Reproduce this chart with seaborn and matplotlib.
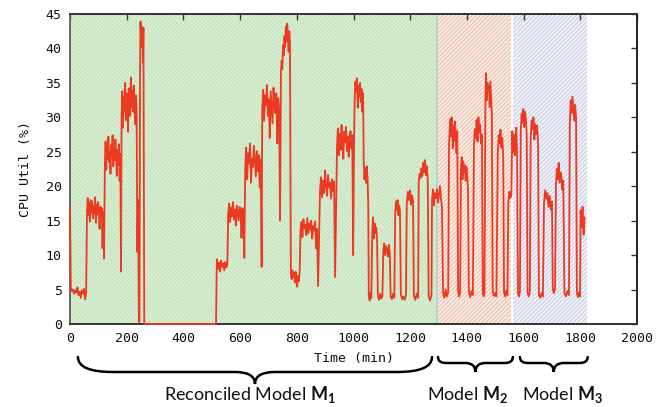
import numpy as np
import pandas as pd
import matplotlib
matplotlib.use("Agg")
import matplotlib.pyplot as plt
import seaborn as sns
from matplotlib.path import Path
from matplotlib.patches import PathPatch
from matplotlib import transforms

# ---------------- data ----------------
# each plateau: start minute, end minute, hand-read CPU values across it
seg_start = [0, 3, 60, 123, 182, 243, 247, 262, 518, 558, 618, 678, 744, 779, 813,
             882, 942, 1004, 1036, 1054, 1066, 1086, 1105, 1131, 1147, 1167, 1188,
             1213, 1230, 1265, 1277, 1316, 1337, 1369, 1379, 1407, 1425, 1456, 1465,
             1491, 1509, 1531, 1546, 1560, 1580, 1590, 1614, 1625, 1654, 1672, 1703,
             1714, 1744, 1763, 1788, 1801]
seg_end = [2, 57, 120, 180, 240, 245, 259, 515, 555, 615, 676, 741, 776, 810, 875,
           935, 1002, 1034, 1052, 1063, 1083, 1102, 1128, 1144, 1164, 1185, 1210,
           1228, 1262, 1275, 1312, 1334, 1366, 1376, 1404, 1421, 1453, 1462, 1488,
           1504, 1528, 1543, 1557, 1577, 1587, 1611, 1622, 1651, 1668, 1700, 1711,
           1740, 1760, 1785, 1799, 1815]
seg_values = [
    [17, 8],
    [5.2, 4.8, 5.0, 4.4, 4.9, 4.6, 5.3, 4.2, 4.7, 3.8, 4.9, 4.4, 5.1, 3.6, 4.5],
    [16.5, 18.3, 15.8, 17.6, 14.9, 18.0, 16.2, 17.8, 15.3, 17.1, 16.0, 18.4, 14.7,
     17.3, 15.9, 17.7, 16.4, 13.8, 17.0, 15.5, 16.8, 11.0, 16.2, 9.5],
    [23.0, 26.5, 22.4, 25.8, 24.0, 27.2, 23.5, 25.0, 21.8, 26.0, 24.6, 27.4, 22.9,
     25.5, 23.8, 26.8, 24.2, 21.5, 25.3, 23.1, 26.1, 20.8, 24.7, 7.6],
    [30.5, 33.8, 28.5, 32.9, 31.0, 35.0, 29.6, 33.5, 31.8, 27.9, 34.2, 32.4, 30.2,
     35.8, 31.5, 33.9, 30.8, 34.6, 32.0, 29.0, 33.2, 31.3, 10.5, 18.0],
    [0.3, 0.3],
    [36.0, 43.9, 41.5, 43.2, 40.2, 42.8, 38.0, 43.0],
    [0, 0],
    [9.4, 8.0, 8.9, 7.6, 9.2, 8.3, 8.8, 7.8, 9.0, 8.2, 8.6],
    [16.0, 17.5, 14.8, 16.9, 15.6, 17.7, 15.2, 16.6, 14.3, 17.2, 16.1, 15.0, 17.0,
     16.3, 12.5, 16.8, 15.4, 9.6],
    [22.5, 25.6, 21.0, 24.8, 23.3, 26.2, 20.5, 24.0, 22.8, 25.9, 23.6, 21.4, 25.1,
     22.2, 24.5, 19.8, 23.9, 8.3],
    [31.0, 34.0, 29.5, 33.2, 31.8, 34.7, 30.2, 32.6, 27.0, 33.8, 31.4, 29.1, 34.3,
     32.1, 30.6, 33.5, 26.2, 32.8, 30.9, 15.0],
    [36.5, 38.2, 37.0, 40.5, 39.0, 41.8, 40.2, 43.2, 41.0, 43.6, 42.0, 39.5, 42.5, 40.8],
    [7.2, 6.5, 7.8, 6.8, 7.4, 6.0, 7.6, 6.6, 5.4, 7.0, 6.2, 7.5],
    [13.5, 14.8, 12.6, 15.2, 13.9, 14.4, 12.9, 15.4, 13.2, 14.6, 13.7, 15.0, 12.4,
     14.2, 13.6, 14.9, 11.0, 13.8, 5.5],
    [19.5, 21.3, 18.4, 20.8, 19.0, 22.3, 20.1, 18.6, 21.6, 19.8, 20.5, 18.2, 21.0,
     19.3, 20.7, 6.8],
    [26.0, 28.4, 24.5, 27.6, 25.3, 28.9, 25.8, 24.0, 27.9, 26.4, 28.6, 25.1, 27.2,
     24.3, 26.8, 28.0, 25.5, 27.4, 10.0, 26.5],
    [32.5, 35.2, 33.8, 35.7, 31.4, 34.6, 33.0, 35.0, 32.2, 34.1, 30.8, 33.5],
    [23.5, 21.0, 22.6, 20.5, 22.9, 21.4, 17.5],
    [4.0, 3.4, 4.5, 3.8],
    [13.0, 15.5, 12.4, 14.6, 13.2, 14.0, 12.6],
    [4.2, 3.5, 4.4, 3.7, 4.0],
    [10.5, 11.7, 10.0, 11.3, 10.8, 9.8, 11.5, 10.3],
    [4.0, 3.6, 4.4, 3.8],
    [16.0, 17.8, 16.6, 18.0, 15.8, 17.2, 16.4],
    [4.3, 3.6, 4.0, 3.5, 4.2],
    [17.6, 19.2, 18.0, 19.4, 17.3, 18.7, 17.9],
    [4.1, 3.5, 4.4, 3.8],
    [20.6, 21.8, 21.2, 22.6, 21.5, 23.4, 22.0, 23.8, 21.6, 22.9, 20.9],
    [4.0, 3.4, 4.2],
    [18.0, 19.5, 17.2, 19.0, 18.3, 19.6, 17.6, 18.8, 20.0, 18.2, 17.0],
    [4.5, 3.8, 5.0, 4.0, 4.6],
    [26.0, 28.5, 29.8, 27.2, 30.0, 25.5, 28.8, 26.6, 29.4, 27.0, 24.8, 28.0],
    [4.8, 4.0, 4.5],
    [22.5, 24.2, 21.0, 23.6, 22.0, 23.0, 20.8, 22.8, 21.5, 19.5],
    [4.6, 3.9, 4.8, 4.2],
    [26.0, 28.3, 27.0, 29.6, 26.5, 30.0, 27.8, 28.9, 26.2, 27.5],
    [4.5, 4.0, 4.6],
    [31.0, 36.4, 32.5, 35.0, 33.8, 34.5, 31.5, 35.2, 32.8, 30.5],
    [4.8, 4.1, 4.5, 4.0],
    [25.0, 27.4, 26.2, 28.2, 25.6, 27.0, 24.5],
    [4.6, 4.0, 4.8, 4.2],
    [17.5, 19.2, 18.3, 18.8],
    [28.0, 25.0, 27.5, 24.5, 26.0, 28.5, 24.8],
    [4.5, 4.0, 4.6],
    [28.0, 30.5, 29.2, 31.2, 28.6, 30.8, 29.8, 27.5],
    [4.5, 4.0, 4.7],
    [27.0, 29.5, 28.3, 30.0, 26.8, 29.0, 27.6, 28.8, 26.5],
    [4.2, 3.8, 4.5, 4.0],
    [17.5, 19.4, 18.2, 19.0, 17.0, 18.6, 16.6, 17.8],
    [5.0, 4.5, 5.2],
    [20.0, 22.5, 21.0, 23.4, 20.5, 22.0, 21.3, 19.5, 20.8],
    [4.5, 4.0, 4.8, 4.2],
    [29.0, 32.5, 30.6, 33.0, 31.2, 29.5, 31.8, 30.0],
    [4.5, 3.9, 4.6, 4.0],
    [16.5, 14.0, 17.0, 13.0, 15.5],
]

# model regions (minutes)
region_start = [0, 1295, 1560]
region_end = [1295, 1560, 1822]
region_names = ["Reconciled Model", "Model", "Model"]
region_models = ["1", "2", "3"]

x_ticks = [0, 200, 400, 600, 800, 1000, 1200, 1400, 1600, 1800, 2000]
y_ticks = [0, 5, 10, 15, 20, 25, 30, 35, 40, 45]

# ---------------- build series ----------------
t_all, v_all = [], []
for s, e, vals in zip(seg_start, seg_end, seg_values):
    t_all.extend(np.linspace(s, e, len(vals)))
    v_all.extend(vals)
df = pd.DataFrame({"Time (min)": t_all, "CPU Util (%)": v_all})

# ---------------- style ----------------
sns.set_style("white")
plt.rcParams["font.family"] = ["DejaVu Sans Mono"]
plt.rcParams["hatch.linewidth"] = 1.0
plt.rcParams["mathtext.fontset"] = "custom"
plt.rcParams["mathtext.bf"] = "Lato:bold"
plt.rcParams["mathtext.rm"] = "Lato"

fig = plt.figure(figsize=(6.56, 4.07), dpi=100)
W, H = 656, 407
ax = fig.add_axes([70 / W, 1 - 324 / H, (637 - 70) / W, (324 - 14) / H])

# shaded regions
ax.axvspan(region_start[0], region_end[0], facecolor="#e4f2e0", edgecolor="#cbe6c2",
           hatch="xxxxxxxx", linewidth=0, zorder=0)
ax.axvspan(region_start[1], region_end[1], facecolor="#fbf3ef", edgecolor="#efc2ae",
           hatch="////////", linewidth=0, zorder=0)
ax.axvspan(region_start[2], region_end[2], facecolor="#f8f8fc", edgecolor="#cdcfe6",
           hatch="////////", linewidth=0, zorder=0)
ax.axvline(region_end[0], color="#a9d4d8", lw=1.2, zorder=0.5)
ax.axvline(region_end[1], color="white", lw=1.5, zorder=0.5)

sns.lineplot(data=df, x="Time (min)", y="CPU Util (%)", sort=False, estimator=None,
             color="#ea3a22", lw=1.3, ax=ax, zorder=3, clip_on=False)

ax.set_xlim(0, 2000)
ax.set_ylim(0, 45)
ax.set_xticks(x_ticks)
ax.set_yticks(y_ticks)
ax.tick_params(direction="in", top=True, right=True, length=4, width=1,
               labelsize=9.5, colors="#333333", pad=6)
ax.tick_params(axis="x", labelcolor="#111111")
ax.tick_params(axis="y", labelcolor="#111111")
for side in ["top", "right", "bottom", "left"]:
    ax.spines[side].set_linewidth(1.4)
ax.spines["left"].set_color("#666666")
ax.spines["bottom"].set_color("#333333")
ax.spines["top"].set_color("#333333")
ax.spines["right"].set_color("#222222")
ax.set_xlabel("Time (min)", fontsize=9.5, labelpad=5, color="#111111")
ax.set_ylabel("CPU Util (%)", fontsize=9.5, labelpad=10, color="#111111")

# ---------------- braces under the axis ----------------
trans = transforms.blended_transform_factory(ax.transData, fig.transFigure)
y_top = 1 - 357 / H


def brace(x0, x1, depth_end, depth_tip, r_end, r_tip):
    xm = (x0 + x1) / 2
    yl = y_top - depth_end / H
    yt = yl - depth_tip / H
    verts = [(x0, y_top), (x0, yl), (x0 + r_end, yl),
             (xm - r_tip, yl),
             (xm, yl), (xm, yt),
             (xm, yl), (xm + r_tip, yl),
             (x1 - r_end, yl),
             (x1, yl), (x1, y_top)]
    codes = [Path.MOVETO, Path.CURVE3, Path.CURVE3, Path.LINETO,
             Path.CURVE3, Path.CURVE3, Path.CURVE3, Path.CURVE3,
             Path.LINETO, Path.CURVE3, Path.CURVE3]
    p = PathPatch(Path(verts, codes), transform=trans, fill=False, lw=1.8,
                  edgecolor="black", clip_on=False, capstyle="round")
    fig.add_artist(p)
    return xm


px = 1 / 0.2835  # minutes per pixel
brace_specs = [(28, 1277, 15, 12, 35 * px, 20 * px),
               (1298, 1562, 6, 9, 8 * px, 10 * px),
               (1587, 1826, 6, 9, 8 * px, 10 * px)]
label_shift = [-5 * px, -8 * px, 9 * px]
for (x0, x1, de, dt, re, rt), name, m, sh in zip(brace_specs, region_names,
                                                 region_models, label_shift):
    xm = brace(x0, x1, de, dt, re, rt)
    fig.text(xm + sh, 1 - 400 / H, name + r" $\mathbf{M_" + m + "}$",
             transform=trans, ha="center", va="baseline", fontsize=13,
             family="Lato", color="#111111")

fig.savefig("out.png", dpi=100)
